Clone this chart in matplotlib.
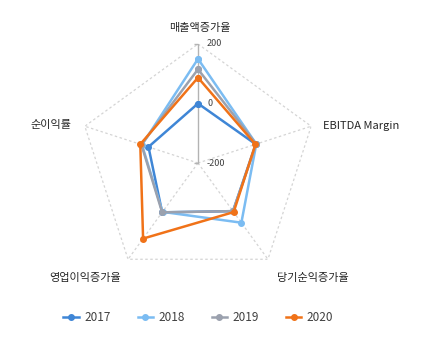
import matplotlib.pyplot as plt
import numpy as np

plt.rcParams['font.family'] = ['Noto Sans CJK KR', 'DejaVu Sans']

categories = ['매출액증가율', 'EBITDA Margin', '당기순익증가율', '영업이익증가율', '순이익률']
years = ['2017', '2018', '2019', '2020']
v2017 = [0, 4, 0, 5, -25]
v2018 = [150, 6, 48, 3, -2]
v2019 = [115, 6, 0, 5, 0]
v2020 = [87, 3, 4, 114, 4]
colors = ['#3f86d6', '#7bbcf2', '#9ba1ae', '#f07218']
r_ticks = [-200, 0, 200]

n = len(categories)
theta = np.linspace(0, 2 * np.pi, n, endpoint=False)
theta_closed = np.append(theta, theta[0])

fig = plt.figure(figsize=(4.29, 3.52), dpi=100)
ax = fig.add_axes([79 / 429, 70 / 352, 238 / 429, 238 / 352], projection='polar')
ax.set_theta_offset(np.pi / 2)
ax.set_theta_direction(-1)
ax.set_ylim(-200, 200)
ax.grid(False)
ax.spines['polar'].set_visible(False)
ax.set_xticks([])
ax.set_yticks([])
ax.patch.set_alpha(0)

# outer pentagon and spokes (dotted)
ax.plot(theta_closed, [200] * (n + 1), color='#d4d4d4', lw=0.9, ls=(0, (2, 2)), zorder=1)
for t in theta[1:]:
    ax.plot([t, t], [-200, 200], color='#d4d4d4', lw=0.9, ls=(0, (2, 2)), zorder=1)
# radial axis with ticks
ax.plot([0, 0], [-200, 200], color='#b3b3b3', lw=1.0, zorder=1)
ax.plot([0] * len(r_ticks), r_ticks, ls='none', marker=0, markersize=3,
        markeredgewidth=1.0, color='#b3b3b3', zorder=1, clip_on=False)
for r in r_ticks:
    ax.annotate(str(r), xy=(0, r), xytext=(9, 0), textcoords='offset pixels',
                ha='left', va='center', fontsize=6.5, color='#404040')

series = [v2017, v2018, v2019, v2020]
for vals, c, y in zip(series, colors, years):
    ax.plot(theta_closed, vals + vals[:1], color=c, lw=1.8, marker='o',
            markersize=4, label=y, zorder=3, clip_on=False)

# category labels
offsets = [(2, 16, 'center'), (12, 0, 'left'), (45, -19, 'center'),
           (-43, -19, 'center'), (-13, 1, 'right')]
for t, lab, (dx, dy, ha) in zip(theta, categories, offsets):
    ax.annotate(lab, xy=(t, 200), xytext=(dx, dy), textcoords='offset pixels',
                ha=ha, va='center', fontsize=8, color='#262626')

fig.legend(loc='center', bbox_to_anchor=(0.462, 0.097), ncol=4, frameon=False,
           fontsize=8.5, handlelength=1.3, columnspacing=2.3, handletextpad=0.45,
           labelcolor='#404040')

fig.savefig('out.png', dpi=100)
